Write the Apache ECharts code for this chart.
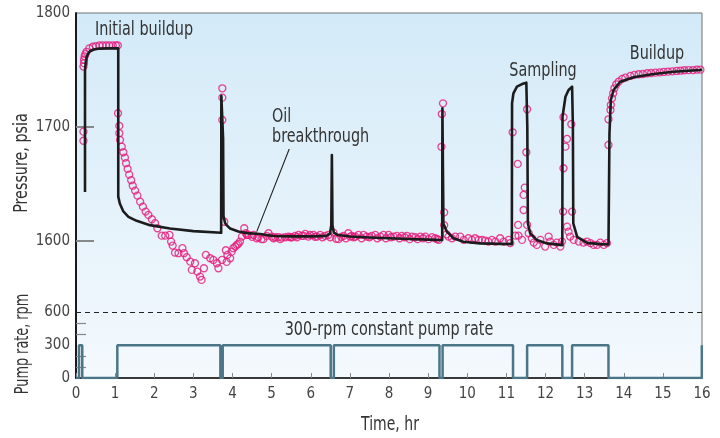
<!DOCTYPE html>
<html><head><meta charset="utf-8">
<script src="https://cdn.jsdelivr.net/npm/echarts@6/dist/echarts.min.js"></script>
<style>html,body{margin:0;padding:0;background:#fff}#c{width:720px;height:438px}</style>
</head><body><div id="c"></div>
<script>
// ---- tick labels ----
const pressureTicks = [1600, 1700, 1800];
const pressureTickMarks = [1600, 1700];
const pumpTicks = [0, 300, 600];
const pumpMinorTicks = [100, 200, 400, 500];

// ---- pump rate (rpm), step changes: rate holds from each time until the next ----
const pumpTime = [0, 0.077, 0.16, 1.056, 3.69, 3.75, 6.51, 6.59, 9.29, 9.37, 11.17, 11.53, 12.43, 12.68, 13.61, 15.995, 16];
const pumpRate = [0, 300, 0, 300, 0, 300, 0, 300, 0, 300, 0, 300, 0, 300, 0, 300, 300];

// ---- model pressure curve (hr, psia) ----
const modelCurve = [
 [0.23,1643],[0.23,1750],[0.25,1757],[0.27,1761],[0.31,1764.5],[0.36,1766.5],[0.45,1768],[0.6,1768.8],[0.8,1769],[1.08,1769],
 [1.08,1639],[1.12,1633],[1.21,1626],[1.34,1621.3],[1.55,1617.8],[1.89,1614],[2.4,1611],[3.0,1608.8],[3.71,1607.3],
 [3.715,1727.5],[3.76,1690],[3.77,1622],[3.81,1616],[3.85,1614],[3.94,1611],[4.15,1608.5],[4.37,1607],[4.71,1606.3],
 [5.04,1604.5],[5.5,1604.2],[6.0,1604.2],[6.4,1604.6],[6.49,1606.5],[6.525,1614],[6.54,1675.4],[6.555,1614],[6.59,1607.5],
 [6.7,1605.3],[7.0,1604],[7.5,1603.2],[8.0,1602.5],[8.5,1601.9],[9.0,1601.3],[9.36,1601],
 [9.365,1716.5],[9.385,1640],[9.39,1615.5],[9.48,1608.3],[9.65,1602.5],[9.9,1599.5],[10.33,1598],[11.14,1597.4],
 [11.145,1720.8],[11.18,1729.6],[11.27,1735.4],[11.40,1737.7],[11.51,1738.9],[11.535,1700],[11.55,1615.5],[11.61,1606.7],
 [11.78,1600.9],[12.04,1598],[12.43,1596.5],
 [12.435,1709],[12.51,1726.6],[12.59,1732.5],[12.68,1735.4],[12.70,1700],[12.71,1615.5],[12.81,1603.8],[13.06,1598.5],
 [13.40,1597.4],[13.61,1597],
 [13.635,1694.7],[13.67,1723.7],[13.74,1732.5],[13.91,1739.7],[14.25,1743.6],[14.76,1746.5],[15.27,1748.5],[15.95,1750],[16,1750.2]
];

// ---- measured pressure points (hr, psia) ----
const measInitial = [[0.19,1696],[0.19,1688],[0.19,1753],[0.205,1756],[0.205,1759],[0.22,1762],[0.24,1764],[0.27,1766],
 [0.34,1769],[0.43,1770.4],[0.51,1771],[0.60,1771.6],[0.68,1771.6],[0.77,1771.6],[0.85,1771.6],[0.94,1771.6],[1.02,1771.6],[1.07,1771.6]];
const measDrawdown = [[1.074,1712.1],[1.107,1701],[1.107,1694.6],[1.125,1688.7],[1.17,1682.8],[1.21,1677.9],[1.25,1673.2],
 [1.28,1668.3],[1.32,1663.3],[1.36,1658.3],[1.41,1653.4],[1.45,1648.6],[1.51,1644.3],[1.57,1639.9],[1.64,1634.6],[1.71,1630.2],
 [1.78,1625.9],[1.85,1623],[1.94,1619.2],[2.02,1615.7],[2.08,1611.3],[2.19,1604.8],[2.28,1604.8],[2.39,1605.4],[2.43,1599.6],
 [2.47,1596.1],[2.53,1589.9],[2.62,1589.4],[2.72,1593.8],[2.76,1589.4],[2.83,1585.9],[2.92,1582],[2.96,1574.8],[3.04,1580.6],
 [3.10,1573.3],[3.17,1568.9],[3.21,1566],[3.27,1576.2],[3.32,1587.9],[3.43,1585],[3.51,1583.5],[3.60,1580.6],[3.64,1576.2],[3.73,1583.5]];
const measSpike1 = [[3.74,1734],[3.74,1725.8],[3.74,1706.2]];
const measRecovery = [[3.79,1617],[3.83,1592],[3.85,1581.8],[3.87,1587.9],[3.94,1584.9],[3.98,1590.8],[4.02,1593.8],[4.07,1595.2],
 [4.11,1596.7],[4.15,1597.6],[4.19,1599.6],[4.24,1604],[4.30,1611.3],[4.34,1606.9],[4.37,1605.4]];
const measFlat = [[4.41,1605.4],[4.50,1603.8],[4.54,1605.4],[4.62,1602.5],[4.66,1603.4],[4.74,1601.7],[4.79,1601.7],[4.87,1604.6],
 [4.92,1606.9],[5.00,1604],[5.05,1602.5],[5.09,1603.4],[5.17,1603.4],[5.22,1601.7],[5.26,1603.1],[5.35,1603.4],[5.43,1604],
 [5.48,1603.4],[5.52,1603.4],[5.60,1604.6],[5.65,1603.4],[5.69,1605.4],[5.77,1604.6],[5.82,1604.6],[5.86,1606.3],[5.94,1604],
 [5.98,1605.4],[6.07,1605.4],[6.11,1603.8],[6.16,1604],[6.24,1605.4],[6.30,1603.4],[6.37,1604.6],[6.45,1605.4],[6.50,1603.4],
 [6.58,1607.5],[6.65,1602],[6.71,1601.7],[6.78,1603.8],[6.84,1604.6],[6.90,1602.5],[6.96,1606.9],[7.01,1604],[7.05,1604.6],
 [7.10,1603.4],[7.14,1604],[7.22,1605.4],[7.30,1602.5],[7.35,1605.4],[7.43,1604],[7.50,1603.4],[7.56,1604.6],[7.65,1605.4],
 [7.70,1602.5],[7.78,1604],[7.86,1605.4],[7.92,1602.5],[7.99,1605.4],[8.05,1603.4],[8.12,1604],[8.20,1604.6],[8.27,1602.5],
 [8.33,1604.6],[8.40,1603.4],[8.46,1604.6],[8.53,1601.7],[8.59,1604],[8.67,1603.4],[8.73,1601.7],[8.80,1604],[8.87,1602.5],
 [8.93,1604],[9.01,1601.7],[9.10,1603.5],[9.18,1602.5],[9.23,1601.7],[9.27,1601.1]];
const measSpike3 = [[9.38,1720.8],[9.35,1711.4],[9.34,1682.7],[9.41,1625.2],[9.41,1614],[9.47,1606]];
const measBeforeSampling = [[9.52,1604],[9.61,1602.5],[9.69,1604],[9.82,1604],[9.91,1601.1],[10.03,1602.5],[10.12,1601.1],
 [10.20,1602.5],[10.29,1601.1],[10.38,1601.1],[10.46,1600.5],[10.54,1599.6],[10.63,1601.1],[10.72,1599.6],[10.84,1602.5],
 [10.93,1599.6],[11.06,1601.1],[11.10,1598.2]];
const measSampling1 = [[11.16,1695.4],[11.23,1604.8],[11.31,1604.8],[11.30,1614.2],[11.29,1667.7],[11.40,1601.1],[11.47,1646.9],
 [11.44,1640.5],[11.44,1627.3],[11.51,1677.9],[11.53,1715.6],[11.53,1614.2],[11.57,1606.9],[11.65,1602.5],[11.70,1598.7],
 [11.78,1596.7],[11.87,1601.1],[11.99,1595.2],[12.08,1604],[12.12,1599.6],[12.21,1596.7],[12.29,1598.7],[12.38,1595.2],[12.42,1599.6]];
const measSampling2 = [[12.46,1708.6],[12.66,1702.5],[12.55,1689.6],[12.51,1682.8],[12.46,1663.9],[12.45,1625.9],[12.68,1625.9],
 [12.55,1612.7],[12.59,1608.3],[12.63,1604],[12.72,1601.1],[12.85,1599.6],[12.97,1598.7],[13.06,1599.6],[13.15,1598.2],
 [13.23,1596.7],[13.32,1596.7],[13.40,1598.7],[13.49,1596.7],[13.57,1598.2]];
const measBuildup = [[13.61,1684.3],[13.61,1706.8],[13.66,1715],[13.67,1719.4],[13.70,1725.2],[13.73,1729.6],[13.76,1734],
 [13.81,1737.5],[13.87,1739.8],[13.96,1742.2],[14.04,1743.3],[14.17,1744.8],[14.27,1745.7],[14.38,1746.3],[14.49,1746.5],
 [14.60,1747.2],[14.70,1747.4],[14.81,1747.7],[14.92,1748],[15.02,1748.3],[15.13,1748.6],[15.24,1748.9],[15.35,1749.2],
 [15.45,1749.4],[15.55,1749.8],[15.66,1750],[15.77,1750],[15.87,1750.3],[15.96,1750.3]];

// ---- leader line for the "Oil breakthrough" note (hr, psia) ----
const leaderFrom = [5.45, 1680.8];
const leaderTo = [4.62, 1608.3];

const FONT = "'DejaVu Sans Condensed','DejaVu Sans',sans-serif";
const measured = [].concat(measInitial, measDrawdown, measSpike1, measRecovery, measFlat, measSpike3,
  measBeforeSampling, measSampling1, measSampling2, measBuildup);
const pumpData = pumpTime.map((t, i) => [t, pumpRate[i]]);

function note(text, x, y, align, size, sx, rot) {
  return {type: 'text', x: x, y: y, rotation: rot || 0, scaleX: sx, scaleY: 1, z: 10,
    style: {x: 0, y: 0, text: text, fill: '#333', fontSize: size, fontFamily: FONT, align: align, verticalAlign: 'middle'}};
}

const chart = echarts.init(document.getElementById('c'), null, {renderer: 'canvas'});
chart.setOption({
  animation: false,
  backgroundColor: '#fff',
  grid: {
    left: 76, right: 18, top: 13, bottom: 60, show: true,
    borderColor: '#707070', borderWidth: 1,
    backgroundColor: new echarts.graphic.LinearGradient(0, 0, 0, 1, [
      {offset: 0, color: '#d3eaf8'}, {offset: 1, color: '#f4f9fd'}])
  },
  xAxis: {
    type: 'value', min: 0, max: 16, interval: 1,
    axisLine: {show: true, lineStyle: {color: '#111', width: 1.5}},
    axisTick: {show: true, inside: true, length: 5, lineStyle: {color: '#888', width: 1}},
    axisLabel: {color: '#444', fontSize: 15, fontFamily: FONT, margin: 9},
    splitLine: {show: false}
  },
  yAxis: [
    {
      type: 'value', min: 1480, max: 1800, position: 'left',
      axisLine: {show: true, lineStyle: {color: '#111', width: 1.5}},
      axisTick: {show: true, inside: true, length: 18, customValues: pressureTickMarks, lineStyle: {color: '#888', width: 2}},
      axisLabel: {color: '#444', fontSize: 15, fontFamily: FONT, margin: 6, customValues: pressureTicks,
        formatter: v => String(v)},
      splitLine: {show: false}
    },
    {
      type: 'value', min: 0, max: 3333, position: 'left',
      axisLine: {show: true, lineStyle: {color: '#111', width: 1.5}},
      axisTick: {show: true, inside: true, length: 10, customValues: pumpMinorTicks, lineStyle: {color: '#888', width: 1.2}},
      axisLabel: {color: '#444', fontSize: 15, fontFamily: FONT, margin: 6, customValues: pumpTicks,
        formatter: v => String(v)},
      splitLine: {show: false}
    }
  ],
  graphic: [
    note('Pressure, psia', 22, 163, 'center', 19, 0.84, Math.PI / 2),
    note('Pump rate, rpm', 23, 344, 'center', 19, 0.75, Math.PI / 2),
    note('Time, hr', 390, 425, 'center', 19, 0.82),
    note('Initial buildup', 95, 30, 'left', 20, 0.8),
    note('Oil', 272, 117, 'left', 20, 0.8),
    note('breakthrough', 272, 137, 'left', 20, 0.8),
    note('Sampling', 543, 71, 'center', 20, 0.8),
    note('Buildup', 657, 54, 'center', 20, 0.8),
    note('300-rpm constant pump rate', 389, 330, 'center', 20, 0.8)
  ],
  series: [
    {
      type: 'scatter', xAxisIndex: 0, yAxisIndex: 0, data: measured, z: 2, silent: true,
      symbol: 'circle', symbolSize: 7,
      itemStyle: {color: 'rgba(0,0,0,0)', borderColor: '#e6197a', borderWidth: 1.3}
    },
    {
      type: 'line', xAxisIndex: 0, yAxisIndex: 0, data: modelCurve, z: 3, silent: true,
      showSymbol: false, symbol: 'none',
      lineStyle: {color: '#1c1c1c', width: 2.6, join: 'round'},
      markLine: {
        silent: true, symbol: 'none', label: {show: false},
        lineStyle: {color: '#222', width: 1.1, type: 'solid'},
        data: [[{coord: leaderFrom}, {coord: leaderTo}]]
      }
    },
    {
      type: 'line', xAxisIndex: 0, yAxisIndex: 1, data: pumpData, step: 'end', z: 3, silent: true,
      showSymbol: false, symbol: 'none',
      lineStyle: {color: '#4a7688', width: 2.5},
      markLine: {
        silent: true, symbol: 'none', label: {show: false},
        lineStyle: {color: '#222', width: 1.2, type: [5, 4]},
        data: [{yAxis: 600}]
      }
    }
  ]
});
</script>
</body></html>
